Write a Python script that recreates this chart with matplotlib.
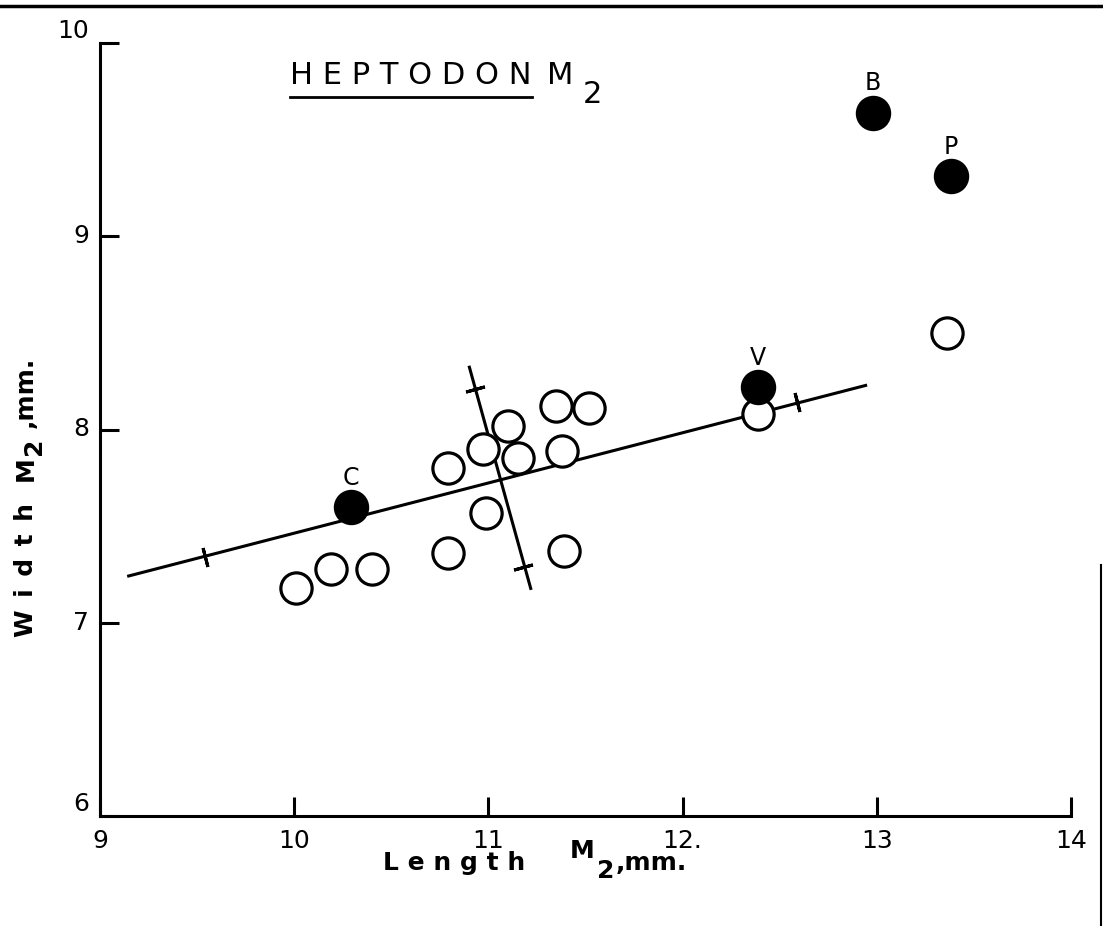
import numpy as np
from matplotlib import pyplot as plt
from matplotlib.lines import Line2D

# open circles (Length M2, Width M2 in mm)
len_open = [10.01, 10.19, 10.40, 10.79, 10.79, 10.97, 10.99, 11.10, 11.15,
            11.35, 11.52, 11.38, 11.39, 12.39, 13.36]
wid_open = [7.18, 7.28, 7.28, 7.36, 7.80, 7.90, 7.57, 8.02, 7.85,
            8.12, 8.11, 7.89, 7.37, 8.08, 8.50]

# filled, labelled specimens
names = ['C', 'V', 'B', 'P']
len_fill = [10.29, 12.39, 12.98, 13.38]
wid_fill = [7.60, 8.22, 9.64, 9.31]

# regression line and the perpendicular axis, with their cross marks
reg_x = [9.14, 12.95]
reg_y = [7.24, 8.23]
reg_tick_x = [9.54, 12.59]
reg_tick_y = [7.34, 8.14]
perp_x = [10.90, 11.22]
perp_y = [8.33, 7.17]
perp_tick_x = [10.93, 11.18]
perp_tick_y = [8.21, 7.29]

x_ticks = [9, 10, 11, 12, 13, 14]
x_labels = ['9', '10', '11', '12.', '13', '14']
y_ticks = [6, 7, 8, 9, 10]
y_labels = ['6', '7', '8', '9', '10']

W, H = 1103, 926


def px(x, y):
    # piksele -> współrzędne figury
    return x / W, 1 - y / H


fig = plt.figure(figsize=(W / 100, H / 100), dpi=100)
ax = fig.add_axes([100 / W, 110 / H, 971 / W, 773 / H])

ax.set_xlim(9, 14)
ax.set_ylim(6, 10)
ax.spines['top'].set_visible(False)
ax.spines['right'].set_visible(False)
ax.spines['left'].set_linewidth(2.2)
ax.spines['bottom'].set_linewidth(2.2)

ax.set_xticks(x_ticks, x_labels, fontsize=18)
ax.set_yticks(y_ticks, y_labels, fontsize=18)
# end labels sit above their ticks, the middle ones are centred
for lab in ax.get_yticklabels():
    lab.set_va('bottom' if lab.get_text() in ('6', '10') else 'center')
ax.tick_params(axis='both', direction='in', length=14, width=2.2)
ax.tick_params(axis='x', pad=9)
ax.tick_params(axis='y', pad=8)

# lines
ax.plot(reg_x, reg_y, color='black', lw=2.2, solid_capstyle='butt')
ax.plot(perp_x, perp_y, color='black', lw=2.2, solid_capstyle='butt')

# cross marks perpendicular to each line (angle from display coords)
def line_angle(xs, ys):
    p = ax.transData.transform(np.column_stack([xs, ys]))
    return np.degrees(np.arctan2(p[1, 1] - p[0, 1], p[1, 0] - p[0, 0]))

a_reg = line_angle(reg_x, reg_y)
a_perp = line_angle(perp_x, perp_y)
ax.plot(reg_tick_x, reg_tick_y, ls='none', marker=(2, 2, a_reg),
        ms=14, mew=2.2, color='black')
ax.plot(perp_tick_x, perp_tick_y, ls='none', marker=(2, 2, a_perp),
        ms=14, mew=2.2, color='black')

# points
ax.plot(len_open, wid_open, ls='none', marker='o', ms=22.5, mew=2.3,
        mfc='white', mec='black', zorder=3)
ax.plot(len_fill, wid_fill, ls='none', marker='o', ms=24.5, mew=1,
        mfc='black', mec='black', zorder=3)
for n, x, y in zip(names, len_fill, wid_fill):
    ax.annotate(n, (x, y), xytext=(0, 21), textcoords='offset points',
                ha='center', va='center', fontsize=17)

# title
title = fig.text(*px(290, 84), 'H E P T O D O N', fontsize=22,
                 ha='left', va='baseline')
fig.text(*px(547, 84), 'M', fontsize=22, ha='left', va='baseline')
fig.text(*px(583, 103), '2', fontsize=22, ha='left', va='baseline')

# x label
fig.text(*px(383, 870), 'L e n g t h', fontsize=18, fontweight='bold',
         ha='left', va='baseline')
fig.text(*px(570, 858), 'M', fontsize=18, fontweight='bold',
         ha='left', va='baseline')
fig.text(*px(597, 878), '2', fontsize=18, fontweight='bold',
         ha='left', va='baseline')
fig.text(*px(616, 870), ',mm.', fontsize=18, fontweight='bold',
         ha='left', va='baseline')

# y label (rotated)
ykw = dict(fontsize=18, fontweight='bold', rotation=90,
           rotation_mode='anchor', ha='left', va='baseline')
fig.text(*px(33, 637), 'W\u2002i\u2002d\u2002t\u2002h', **ykw)
fig.text(*px(33, 481), 'M', **ykw)
fig.text(*px(41, 455), '2', **ykw)
fig.text(*px(33, 428), ',mm.', **ykw)

# underline under HEPTODON
fig.canvas.draw()
bb = title.get_window_extent()
y_ul = bb.y0 - 7
fig.add_artist(Line2D([bb.x0 / W, bb.x1 / W], [y_ul / H, y_ul / H],
                      transform=fig.transFigure, color='black', lw=2))

# frame lines of the scanned page
fig.add_artist(Line2D([0, 1], [1 - 6 / H, 1 - 6 / H],
                      transform=fig.transFigure, color='black', lw=2.5))
fig.add_artist(Line2D([1101 / W, 1101 / W], [0, 1 - 565 / H],
                      transform=fig.transFigure, color='black', lw=1.5))

fig.savefig('out.png', dpi=100)
